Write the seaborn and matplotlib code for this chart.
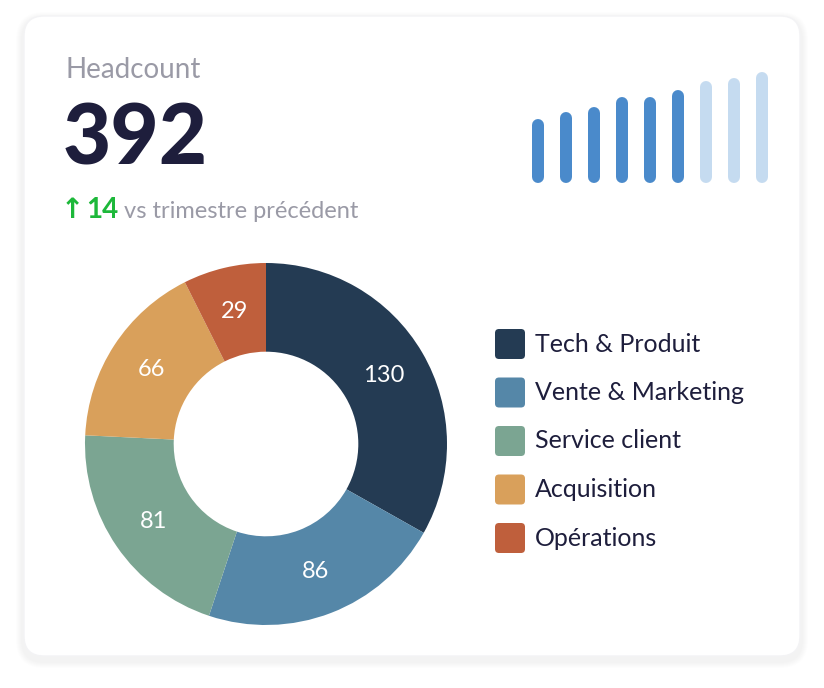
import matplotlib
matplotlib.use("Agg")
import matplotlib.pyplot as plt
import seaborn as sns
import numpy as np
from matplotlib.patches import FancyBboxPatch

sns.set_theme(style="white")
plt.rcParams["font.family"] = ["Lato", "DejaVu Sans"]

# données
departements = ["Tech & Produit", "Vente & Marketing", "Service client", "Acquisition", "Opérations"]
effectifs = [130, 86, 81, 66, 29]
couleurs = ["#243B53", "#5587A8", "#7BA592", "#D9A05B", "#BF5F3C"]
tendance = [64, 71, 76, 86, 86, 93, 102, 105, 111]
tendance_couleurs = ["#4A8ACB"] * 6 + ["#C5DBF0"] * 3
total = 392
variation = 14

fig = plt.figure(figsize=(8.24, 6.88), dpi=100)
fig.patch.set_facecolor("white")

# carte avec ombre douce
bg = fig.add_axes([0, 0, 1, 1])
bg.set_xlim(0, 824)
bg.set_ylim(688, 0)
bg.axis("off")
for i in range(6):
    p = 8 - i
    bg.add_patch(FancyBboxPatch((24 - p, 16 - p + 4), 776 + 2 * p, 640 + 2 * p,
                                boxstyle="round,pad=0,rounding_size=%d" % (20 + p),
                                fc="black", ec="none", alpha=0.006))
bg.add_patch(FancyBboxPatch((24, 16), 776, 640, boxstyle="round,pad=0,rounding_size=20",
                            fc="white", ec="#F3F3F5", lw=1))

bg.text(66, 70, "Headcount", fontsize=20, color="#9A9AA6", va="center")
bg.text(63, 140, str(total), fontsize=60, fontweight="black", color="#1E1E3C", va="center")
bg.text(61, 210, "↑", fontsize=20, color="#1DB83A", va="center", fontweight="bold", family=["DejaVu Sans"])
bg.text(86, 210, str(variation), fontsize=20, color="#1DB83A", va="center", fontweight="bold")
bg.text(124, 211, "vs trimestre précédent", fontsize=17, color="#9A9AA6", va="center")

# sparkline
sp = fig.add_axes([520 / 824, 1 - 190 / 688, 260 / 824, 130 / 688])
sp.set_xlim(-0.65, len(tendance) - 0.35)
sp.set_ylim(0, 130)
sp.vlines(range(len(tendance)), 13, [h + 1 for h in tendance], colors=tendance_couleurs,
          lw=12 * 0.72, capstyle="round")
sp.axis("off")

# donut
cx, cy, r = 266, 444, 181
ax = fig.add_axes([(cx - r) / 824, (688 - cy - r) / 688, 2 * r / 824, 2 * r / 688])
wedges, _ = ax.pie(effectifs, colors=couleurs, startangle=90, counterclock=False,
                   wedgeprops=dict(width=0.49, edgecolor="none"))
for w, v in zip(wedges, effectifs):
    mid = np.deg2rad((w.theta1 + w.theta2) / 2)
    ax.text(0.755 * np.cos(mid), 0.755 * np.sin(mid), str(v), ha="center", va="center",
            color="white", fontsize=17)
ax.set_xlim(-1, 1)
ax.set_ylim(-1, 1)
ax.set_aspect("equal")

# légende
for i, (d, c) in enumerate(zip(departements, couleurs)):
    y = 344 + i * 48.5
    bg.add_patch(FancyBboxPatch((495, y - 15), 30, 30, boxstyle="round,pad=0,rounding_size=4",
                                fc=c, ec="none"))
    bg.text(535, y, d, fontsize=18, color="#1E1E3C", va="center")

fig.savefig("out.png", dpi=100, facecolor="white")
